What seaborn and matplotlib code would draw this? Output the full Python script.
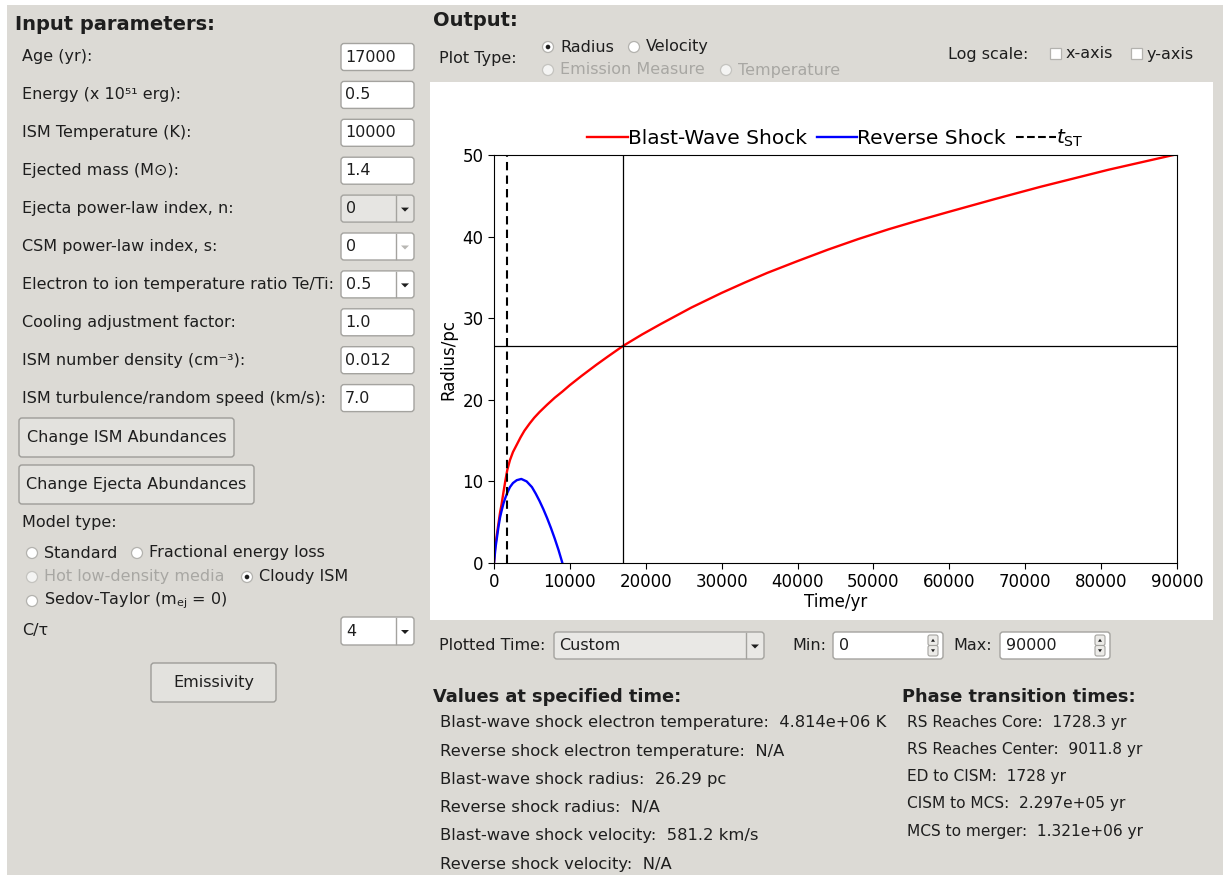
import matplotlib
matplotlib.use("Agg")
import matplotlib.pyplot as plt
from matplotlib.patches import FancyBboxPatch, Rectangle, Circle, Polygon
from matplotlib.lines import Line2D
import seaborn as sns

plt.rcParams['font.family'] = ['DejaVu Sans']

# ---------- data ----------
bw_time = [0, 100, 200, 350, 550, 800, 1000, 1250, 1500, 1750, 2100, 2500, 3000, 3500,
           4000, 4700, 5300, 6000, 7000, 8000, 9000, 10000, 11500, 13500, 15000, 17000,
           19500, 22000, 26000, 30000, 33000, 36000, 40000, 44000, 48000, 52000, 56000,
           60000, 66000, 72000, 81000, 90000]
bw_radius = [0, 1.4, 2.3, 3.3, 4.6, 6.2, 7.2, 8.7, 10.1, 11.4, 12.6, 13.6, 14.5, 15.4,
             16.2, 17.1, 17.8, 18.5, 19.4, 20.25, 21.0, 21.8, 22.9, 24.3, 25.3, 26.6,
             28.0, 29.3, 31.3, 33.1, 34.35, 35.55, 37.0, 38.4, 39.7, 40.9, 42.0,
             43.05, 44.6, 46.1, 48.2, 50.1]
rs_time = [0, 200, 400, 600, 800, 1000, 1250, 1500, 1750, 2100, 2500, 3000, 3600, 4300,
           5000, 5500, 6000, 6500, 7000, 7500, 8000, 8500, 9012]
rs_radius = [0, 1.9, 3.2, 4.5, 5.6, 6.4, 7.3, 8.0, 8.6, 9.3, 9.8, 10.15, 10.3, 10.0,
             9.3, 8.5, 7.6, 6.6, 5.5, 4.3, 3.0, 1.6, 0]
t_st = 1728.3
age = 17000
r_age = 26.65
x_ticks = [0, 10000, 20000, 30000, 40000, 50000, 60000, 70000, 80000, 90000]
y_ticks = [0, 10, 20, 30, 40, 50]

input_labels = ["Age (yr):", "Energy (x 10\u2075\u00b9 erg):", "ISM Temperature (K):",
                "Ejected mass (M\u2299):", "Ejecta power-law index, n:",
                "CSM power-law index, s:", "Electron to ion temperature ratio Te/Ti:",
                "Cooling adjustment factor:", "ISM number density (cm\u207b\u00b3):",
                "ISM turbulence/random speed (km/s):"]
input_values = ["17000", "0.5", "10000", "1.4", "0", "0", "0.5", "1.0", "0.012", "7.0"]
input_kind = ["entry", "entry", "entry", "entry", "combo_grey", "combo_dis", "combo",
              "entry", "entry", "entry"]

values_lines = ["Blast-wave shock electron temperature:  4.814e+06 K",
                "Reverse shock electron temperature:  N/A",
                "Blast-wave shock radius:  26.29 pc",
                "Reverse shock radius:  N/A",
                "Blast-wave shock velocity:  581.2 km/s",
                "Reverse shock velocity:  N/A"]
phase_lines = ["RS Reaches Core:  1728.3 yr",
               "RS Reaches Center:  9011.8 yr",
               "ED to CISM:  1728 yr",
               "CISM to MCS:  2.297e+05 yr",
               "MCS to merger:  1.321e+06 yr"]

# ---------- GUI canvas (pixel coordinates) ----------
W, H = 1223, 875
BG = '#dcdad5'
TXT = '#1e1e1e'
DIS = '#a8a7a3'
EDGE = '#a4a39f'
FS = 11.5

fig = plt.figure(figsize=(W / 100, H / 100), dpi=100)
fig.patch.set_facecolor('white')
gui = fig.add_axes([0, 0, 1, 1])
gui.set_xlim(0, W)
gui.set_ylim(H, 0)
gui.axis('off')
gui.add_patch(Rectangle((7, 5), W - 7, H - 5, fc=BG, ec='none'))


def txt(x, y, s, size=FS, weight='normal', color=TXT, ha='left'):
    gui.text(x, y, s, fontsize=size, fontweight=weight, color=color, ha=ha, va='center')


def field(x0, y0, x1, y1, fc='white', ec=EDGE):
    gui.add_patch(FancyBboxPatch((x0, y0), x1 - x0, y1 - y0,
                                 boxstyle='round,pad=0,rounding_size=3',
                                 fc=fc, ec=ec, lw=1))


def arrow_down(cx, cy, color=TXT):
    gui.add_patch(Polygon([(cx - 4, cy - 1), (cx + 4, cy - 1), (cx, cy + 3)],
                          closed=True, fc=color, ec='none'))


def combo(x0, y0, x1, y1, value, fc='white', acol=TXT):
    field(x0, y0, x1, y1, fc=fc)
    gui.plot([x1 - 18, x1 - 18], [y0 + 1, y1 - 1], color=EDGE, lw=1)
    arrow_down(x1 - 9, (y0 + y1) / 2, acol)
    txt(x0 + 5, (y0 + y1) / 2, value)


def spin(x0, y0, x1, y1, value):
    field(x0, y0, x1, y1)
    bx = x1 - 15
    for yy, up in [(y0 + 3, True), ((y0 + y1) / 2, False)]:
        hh = (y1 - y0) / 2 - 3
        gui.add_patch(FancyBboxPatch((bx, yy), 10, hh, boxstyle='round,pad=0,rounding_size=2',
                                     fc='#ecebe8', ec=EDGE, lw=0.8))
        cx, cy = bx + 5, yy + hh / 2
        if up:
            pts = [(cx - 2, cy + 1.5), (cx + 2, cy + 1.5), (cx, cy - 1.5)]
        else:
            pts = [(cx - 2, cy - 1.5), (cx + 2, cy - 1.5), (cx, cy + 1.5)]
        gui.add_patch(Polygon(pts, closed=True, fc=TXT, ec='none'))
    txt(x0 + 6, (y0 + y1) / 2, value)


def button(x0, y0, x1, y1, label):
    gui.add_patch(FancyBboxPatch((x0, y0), x1 - x0, y1 - y0,
                                 boxstyle='round,pad=0,rounding_size=3',
                                 fc='#e3e2de', ec='#9d9c98', lw=1))
    txt((x0 + x1) / 2, (y0 + y1) / 2, label, ha='center')


def radio(cx, cy, label, checked=False, disabled=False):
    gui.add_patch(Circle((cx, cy), 5.5, fc='#f4f4f3' if disabled else 'white',
                         ec='#c4c3bf' if disabled else '#b3b2ae', lw=0.9))
    if checked:
        gui.add_patch(Circle((cx, cy), 2.3, fc=TXT, ec='none'))
    txt(cx + 12, cy, label, color=DIS if disabled else TXT)


def checkbox(x0, cy, label):
    gui.add_patch(Rectangle((x0, cy - 6), 11, 11, fc='white', ec='#b3b2ae', lw=0.9))
    txt(x0 + 16, cy, label)


# left panel
txt(15, 24, "Input parameters:", size=14, weight='bold')
for i, (lab, val, kind) in enumerate(zip(input_labels, input_values, input_kind)):
    y = 57 + i * 37.9
    txt(22, y, lab)
    if kind == 'entry':
        field(341, y - 13.5, 414, y + 13.5)
        txt(345, y, val)
    elif kind == 'combo_grey':
        combo(341, y - 13.5, 414, y + 13.5, val, fc='#e6e5e2')
    elif kind == 'combo_dis':
        combo(341, y - 13.5, 414, y + 13.5, val, acol='#b8b7b3')
    else:
        combo(341, y - 13.5, 414, y + 13.5, val)

button(19, 418, 234, 457, "Change ISM Abundances")
button(19, 465, 254, 504, "Change Ejecta Abundances")
txt(22, 523, "Model type:")
radio(32, 553, "Standard")
radio(137, 553, "Fractional energy loss")
radio(32, 577, "Hot low-density media", disabled=True)
radio(247, 577, "Cloudy ISM", checked=True)
radio(32, 601, "Sedov-Taylor (m$_{\\mathrm{ej}}$ = 0)")
txt(22, 631, "C/\u03c4")
combo(341, 617, 414, 645, "4")
button(151, 663, 276, 702, "Emissivity")

# right panel header
txt(433, 20, "Output:", size=14, weight='bold')
txt(439, 58, "Plot Type:")
radio(548, 47, "Radius", checked=True)
radio(634, 47, "Velocity")
radio(548, 70, "Emission Measure", disabled=True)
radio(726, 70, "Temperature", disabled=True)
txt(948, 54, "Log scale:")
checkbox(1050, 54, "x-axis")
checkbox(1131, 54, "y-axis")

# white canvas for the plot
gui.add_patch(Rectangle((430, 82), 783, 538, fc='white', ec='none'))

# controls under the plot
txt(439, 645, "Plotted Time:")
combo(554, 632, 764, 659, "Custom", fc='#e9e8e5')
txt(792, 645, "Min:")
spin(833, 632, 943, 659, "0")
txt(953, 645, "Max:")
spin(1000, 632, 1110, 659, "90000")

txt(433, 697, "Values at specified time:", size=12.8, weight='bold')
for i, s in enumerate(values_lines):
    txt(440, 723 + i * 28.2, s, size=11.8)
txt(902, 697, "Phase transition times:", size=12.8, weight='bold')
for i, s in enumerate(phase_lines):
    txt(907, 722 + i * 27.3, s, size=11.1)

# ---------- the chart itself ----------
ax = fig.add_axes([494 / W, (H - 563) / H, (1177 - 494) / W, (563 - 155) / H])
ax.set_facecolor('white')
sns.lineplot(x=bw_time, y=bw_radius, color='red', lw=1.7, ax=ax)
sns.lineplot(x=rs_time, y=rs_radius, color='blue', lw=1.7, ax=ax)
ax.axvline(t_st, color='black', lw=1.5, ls=(0, (4, 2.5)))
ax.axvline(age, color='black', lw=0.9)
ax.axhline(r_age, color='black', lw=0.9)
ax.set_xlim(0, 90000)
ax.set_ylim(0, 50)
ax.set_xticks(x_ticks)
ax.set_yticks(y_ticks)
ax.tick_params(labelsize=12, length=4)
ax.set_xlabel("Time/yr", fontsize=12, labelpad=1)
ax.set_ylabel("Radius/pc", fontsize=12)

handles = [Line2D([], [], color='red', lw=1.7),
           Line2D([], [], color='blue', lw=1.7),
           Line2D([], [], color='black', lw=1.5, ls='--')]
ax.legend(handles, ["Blast-Wave Shock", "Reverse Shock", "$t_{\\rm ST}$"],
          loc='lower center', bbox_to_anchor=(0.5, 1.0), ncol=3, frameon=False,
          fontsize=14.5, handletextpad=0, columnspacing=0.5, handlelength=2.0,
          borderaxespad=0.2, borderpad=0.1)

fig.savefig("out.png", dpi=100)
